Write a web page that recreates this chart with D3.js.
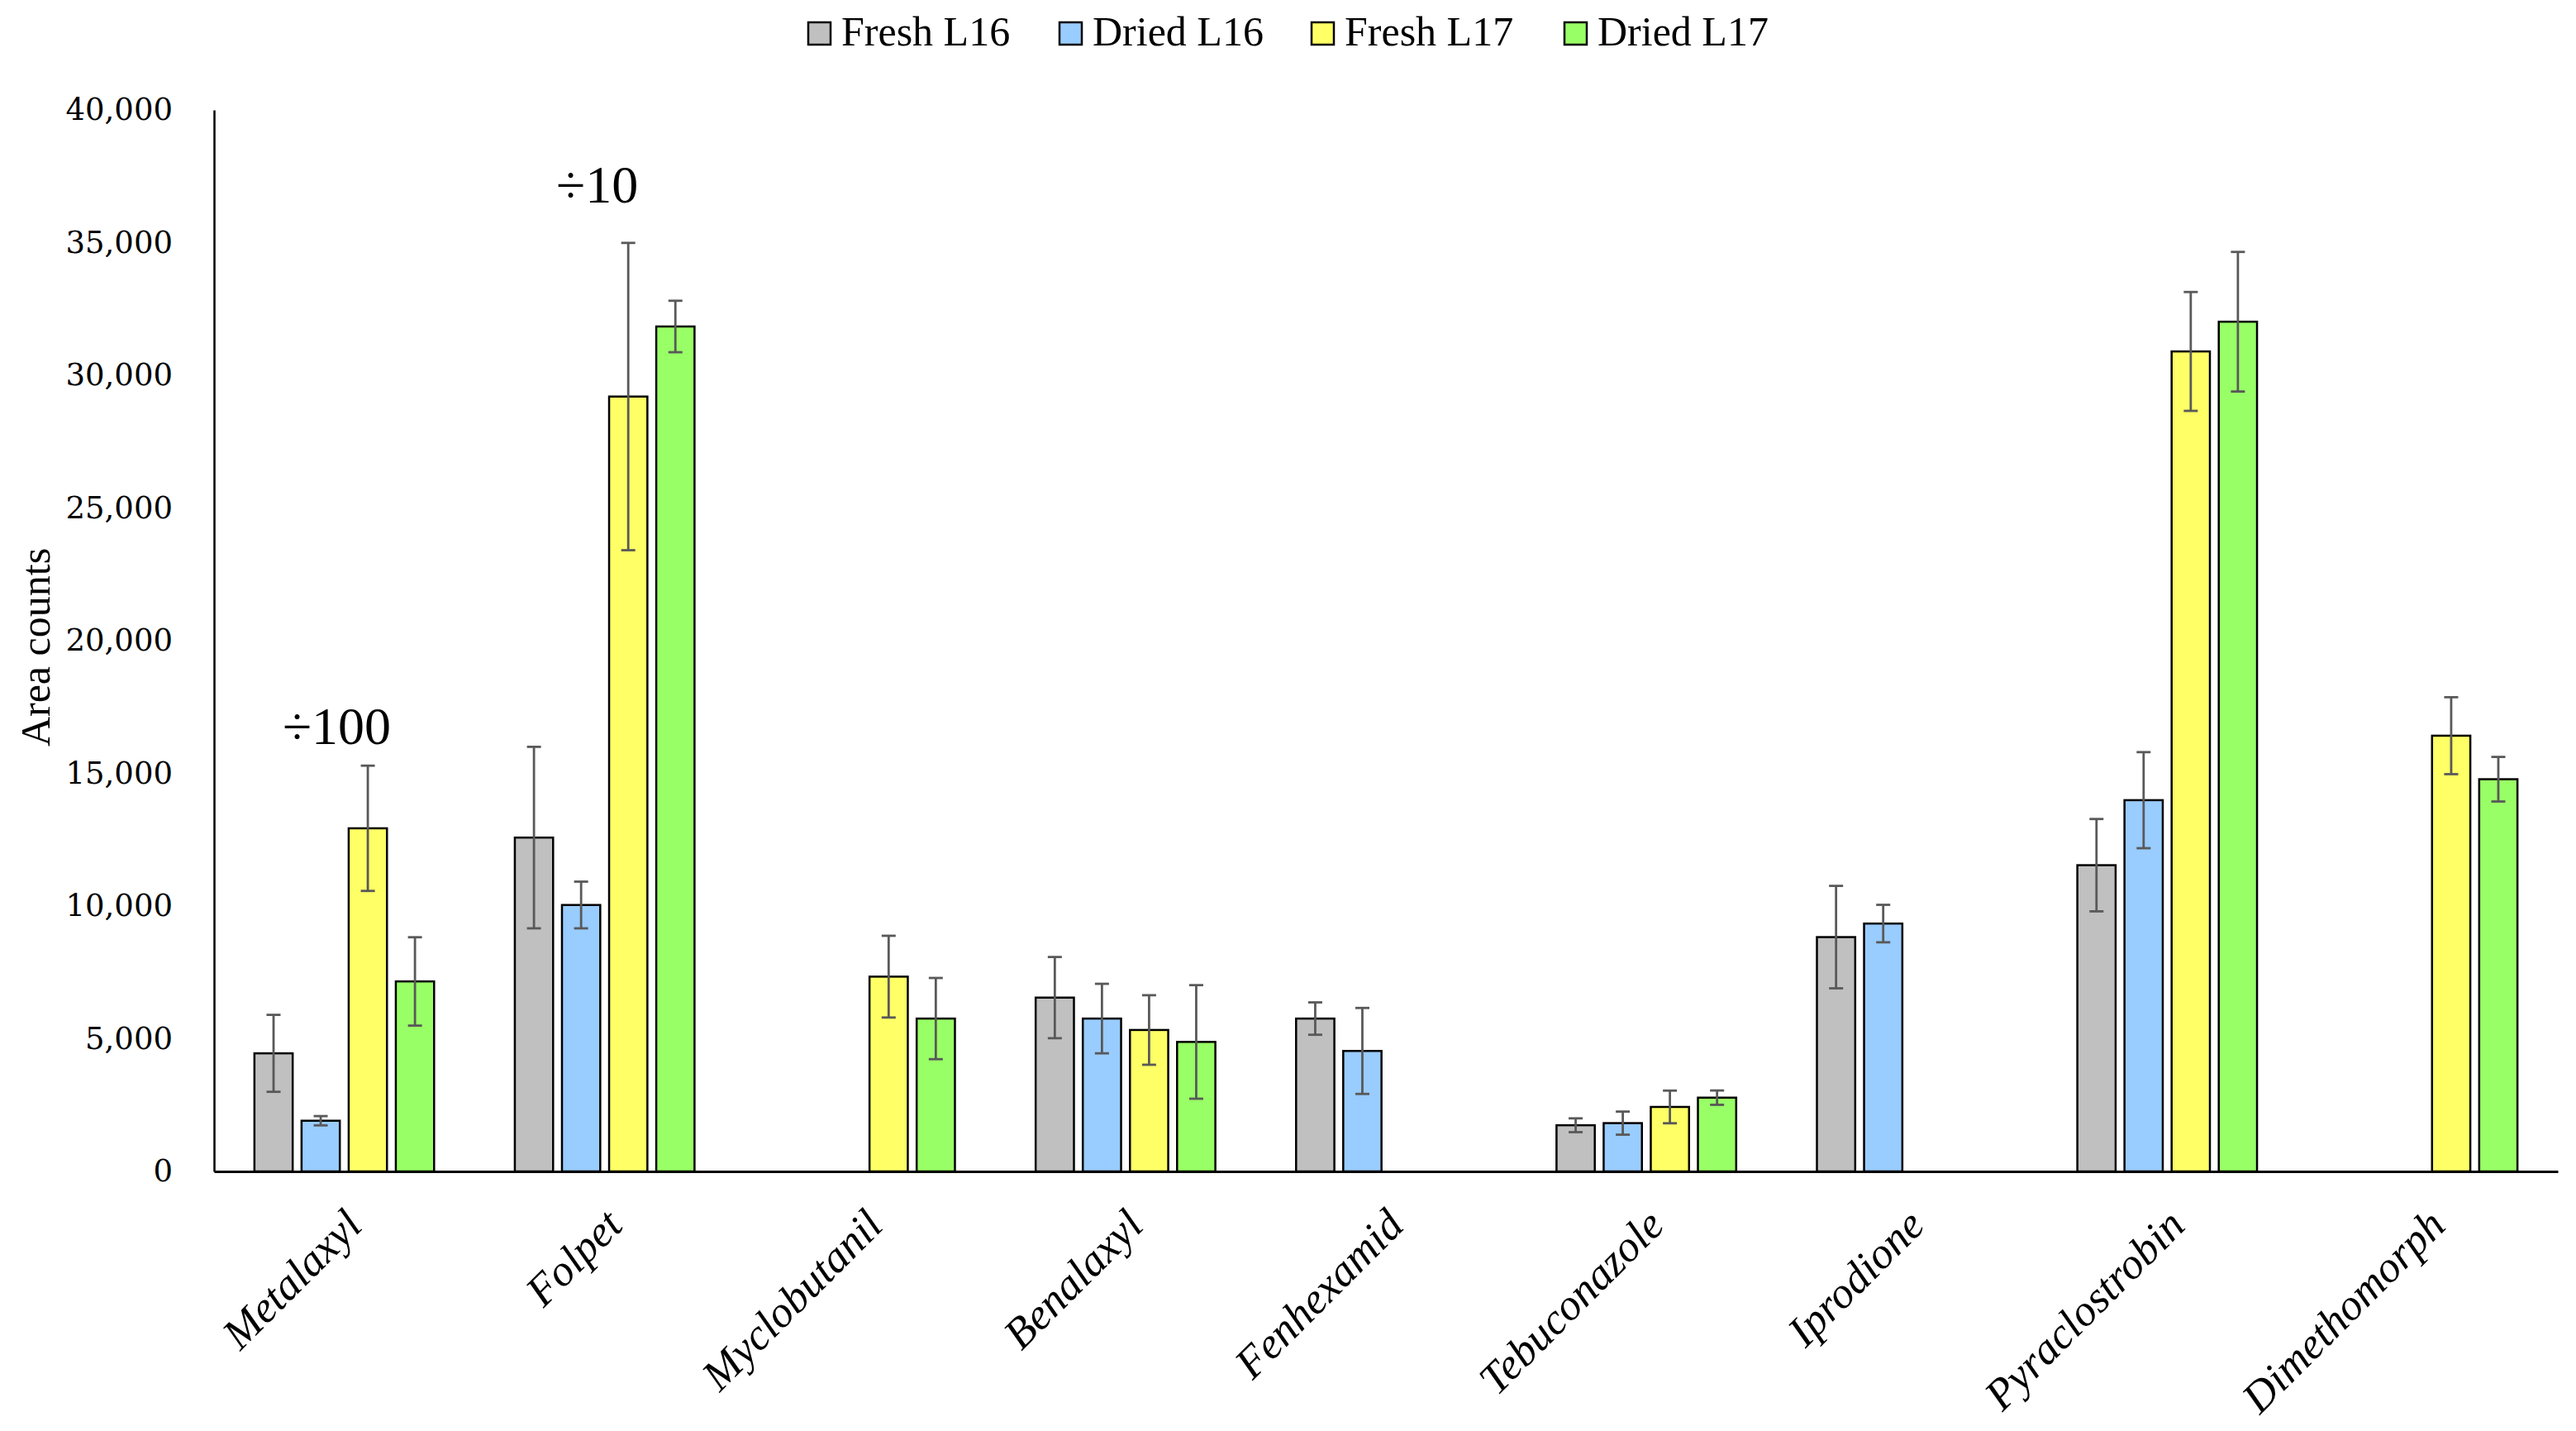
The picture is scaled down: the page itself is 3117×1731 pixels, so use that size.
<!DOCTYPE html>
<html>
<head>
<meta charset="utf-8">
<script src="https://cdn.jsdelivr.net/npm/d3@7"></script>
<style>
  html, body { margin: 0; padding: 0; background: #ffffff; }
  svg { display: block; }
</style>
</head>
<body>
<script>
// ---------- data ----------
const categories = ["Metalaxyl", "Folpet", "Myclobutanil", "Benalaxyl", "Fenhexamid",
                    "Tebuconazole", "Iprodione", "Pyraclostrobin", "Dimethomorph"];
const seriesNames = ["Fresh L16", "Dried L16", "Fresh L17", "Dried L17"];
const freshL16 = [4450, 12580, null, 6550, 5760, 1740, 8830, 11540, null];
const driedL16 = [1910, 10040, null, 5760, 4540, 1820, 9340, 13990, null];
const freshL17 = [12930, 29200, 7340, 5330, null, 2430, null, 30900, 16420];
const driedL17 = [7160, 31840, 5760, 4880, null, 2780, null, 32020, 14780];
const freshL16Err = [1450, 3420, null, 1530, 610, 260, 1930, 1740, null];
const driedL16Err = [175, 880, null, 1310, 1620, 435, 706, 1810, null];
const freshL17Err = [2360, 5790, 1540, 1310, null, 615, null, 2240, 1450];
const driedL17Err = [1665, 970, 1530, 2140, null, 270, null, 2630, 840];
const yTicks = [0, 5000, 10000, 15000, 20000, 25000, 30000, 35000, 40000];
const annotations = [
  { category: "Metalaxyl", value: 16100, text: "\u00F7100" },
  { category: "Folpet", value: 36500, text: "\u00F710" }
];
const colors = ["#C0C0C0", "#99CCFF", "#FFFF66", "#99FF66"];

const seriesValues = [freshL16, driedL16, freshL17, driedL17];
const seriesErrors = [freshL16Err, driedL16Err, freshL17Err, driedL17Err];

// ---------- layout ----------
const W = 3117, H = 1731;
const plot = { left: 259, right: 3095, top: 133, bottom: 1417 };

const svg = d3.select("body").append("svg")
  .attr("width", W).attr("height", H)
  .attr("viewBox", `0 0 ${W} ${H}`);

const x = d3.scaleBand().domain(categories).range([plot.left, plot.right]).padding(0);
const groupSpan = x.bandwidth() * 0.69;
const xs = d3.scaleBand().domain(seriesNames).range([0, groupSpan])
  .paddingInner(0.188).paddingOuter(0);
const y = d3.scaleLinear().domain([0, 40000]).range([plot.bottom, plot.top]);

const serif = "'Liberation Serif', 'Times New Roman', serif";

// ---------- bars ----------
const records = [];
categories.forEach((c, ci) => {
  seriesNames.forEach((s, si) => {
    const v = seriesValues[si][ci];
    if (v != null) records.push({ c, s, si, v, e: seriesErrors[si][ci] });
  });
});

const bx = d => x(d.c) + (x.bandwidth() - groupSpan) / 2 + xs(d.s);

svg.append("g").selectAll("rect").data(records).join("rect")
  .attr("x", bx)
  .attr("y", d => y(d.v))
  .attr("width", xs.bandwidth())
  .attr("height", d => y(0) - y(d.v))
  .attr("fill", d => colors[d.si])
  .attr("stroke", "#000")
  .attr("stroke-width", 2.5);

// ---------- error bars ----------
const capW = 17;
const eg = svg.append("g").attr("stroke", "#595959").attr("stroke-width", 2.8).attr("fill", "none");
records.filter(d => d.e != null).forEach(d => {
  const cx = bx(d) + xs.bandwidth() / 2;
  const y1 = y(d.v + d.e), y2 = y(Math.max(0, d.v - d.e));
  eg.append("line").attr("x1", cx).attr("x2", cx).attr("y1", y1).attr("y2", y2);
  eg.append("line").attr("x1", cx - capW / 2).attr("x2", cx + capW / 2).attr("y1", y1).attr("y2", y1);
  eg.append("line").attr("x1", cx - capW / 2).attr("x2", cx + capW / 2).attr("y1", y2).attr("y2", y2);
});

// ---------- axes ----------
const yAxis = svg.append("g")
  .attr("transform", `translate(${plot.left},0)`)
  .call(d3.axisLeft(y).tickValues(yTicks).tickSize(0).tickSizeOuter(0).tickPadding(50)
    .tickFormat(d3.format(",")));
yAxis.select(".domain").attr("stroke", "#000").attr("stroke-width", 2.5);
yAxis.selectAll("text")
  .attr("font-family", "'DejaVu Serif', serif")
  .attr("font-size", 37)
  .attr("fill", "#000");

const xAxis = svg.append("g")
  .attr("transform", `translate(0,${plot.bottom})`)
  .call(d3.axisBottom(x).tickSize(0).tickSizeOuter(0).tickFormat(""));
xAxis.select(".domain").attr("stroke", "#000").attr("stroke-width", 3);

// category labels (rotated, italic)
svg.append("g").selectAll("text").data(categories).join("text")
  .attr("transform", d => `translate(${x(d) + x.bandwidth() / 2 + 24},${plot.bottom + 68}) rotate(-45)`)
  .attr("text-anchor", "end")
  .attr("font-family", serif)
  .attr("font-style", "italic")
  .attr("font-size", 53)
  .attr("fill", "#000")
  .text(d => d);

// y axis title
svg.append("text")
  .attr("transform", `translate(60,${(plot.top + plot.bottom) / 2 + 8}) rotate(-90)`)
  .attr("text-anchor", "middle")
  .attr("font-family", serif)
  .attr("font-size", 50)
  .attr("fill", "#000")
  .text("Area counts");

// annotations
svg.append("g").selectAll("text").data(annotations).join("text")
  .attr("x", d => x(d.category) + x.bandwidth() / 2 - 9)
  .attr("y", d => y(d.value))
  .attr("text-anchor", "middle")
  .attr("font-family", serif)
  .attr("font-size", 64)
  .attr("fill", "#000")
  .text(d => d.text);

// ---------- legend ----------
const legendX = [978, 1282, 1587, 1893];
const legend = svg.append("g");
seriesNames.forEach((s, i) => {
  const g = legend.append("g").attr("transform", `translate(${legendX[i]},27)`);
  g.append("rect").attr("width", 27).attr("height", 27)
    .attr("fill", colors[i]).attr("stroke", "#000").attr("stroke-width", 2.5);
  g.append("text").attr("x", 40).attr("y", 28)
    .attr("font-family", serif).attr("font-size", 50).attr("fill", "#000")
    .text(s);
});
</script>
</body>
</html>
